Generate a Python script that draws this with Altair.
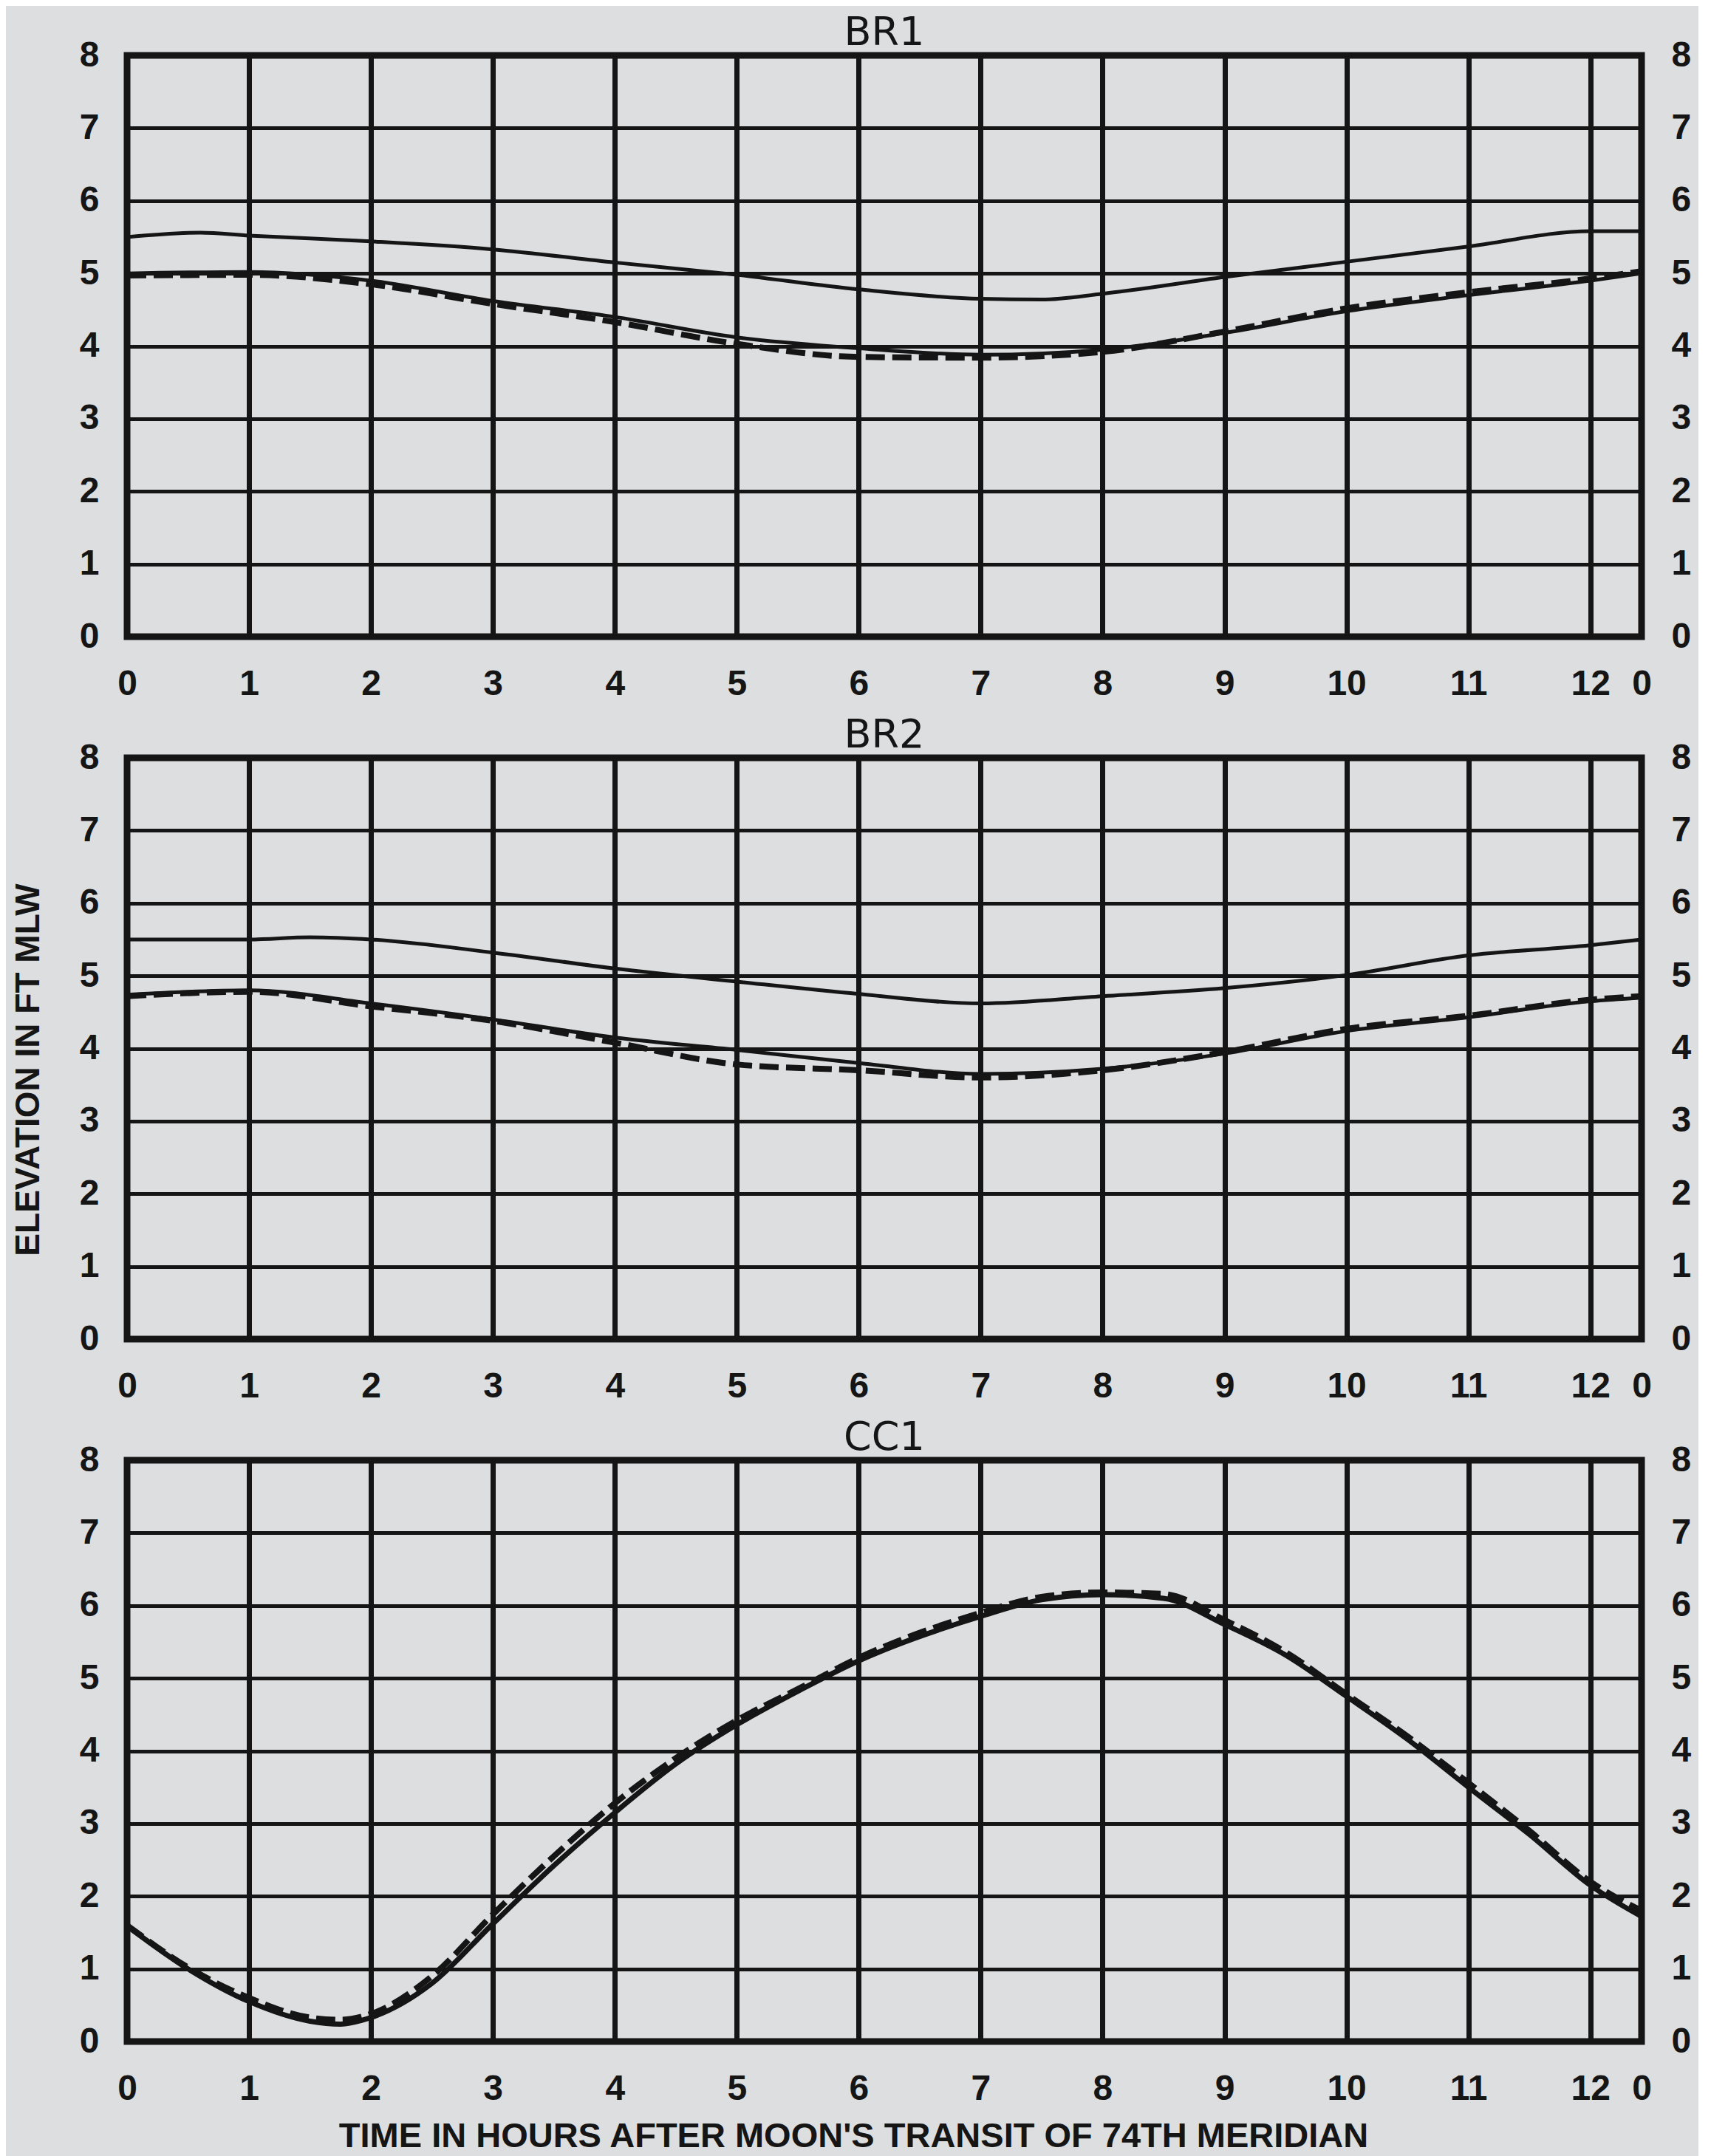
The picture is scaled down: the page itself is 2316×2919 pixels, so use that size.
import altair as alt
import pandas as pd

INK = "#151515"
PAPER = "#dcdee0"
LABEL_FONT = "Liberation Sans"
TITLE_FONT = "DejaVu Sans"

X_TICKS = [0, 1, 2, 3, 4, 5, 6, 7, 8, 9, 10, 11, 12, 12.42]
Y_TICKS = [0, 1, 2, 3, 4, 5, 6, 7, 8]

# ---- BR1 ----
BR1_UP_X = [0, 0.6, 1, 2, 3, 4, 5, 6, 7, 7.5, 8, 9, 10, 11, 12, 12.42]
BR1_UP_Y = [5.50, 5.56, 5.52, 5.44, 5.33, 5.15, 4.98, 4.78, 4.65, 4.64, 4.72, 4.95, 5.16, 5.37, 5.58, 5.58]
BR1_LO_X = [0, 1, 2, 3, 4, 5, 6, 7, 8, 9, 10, 11, 12, 12.42]
BR1_LO_Y = [5.00, 5.02, 4.90, 4.62, 4.40, 4.12, 3.97, 3.88, 3.95, 4.18, 4.48, 4.70, 4.90, 5.00]
BR1_DA_X = [0, 1, 2, 3, 4, 5, 6, 7, 8, 9, 10, 11, 12, 12.42]
BR1_DA_Y = [4.97, 4.98, 4.85, 4.58, 4.33, 4.03, 3.85, 3.84, 3.92, 4.20, 4.52, 4.74, 4.93, 5.03]

# ---- BR2 ----
BR2_UP_X = [0, 1, 1.5, 2, 3, 4, 5, 6, 7, 8, 9, 10, 11, 12, 12.42]
BR2_UP_Y = [5.50, 5.50, 5.53, 5.50, 5.32, 5.10, 4.92, 4.75, 4.62, 4.72, 4.83, 5.01, 5.28, 5.42, 5.50]
BR2_LO_X = [0, 1, 2, 3, 4, 5, 6, 7, 8, 9, 10, 11, 12, 12.42]
BR2_LO_Y = [4.74, 4.80, 4.62, 4.40, 4.15, 3.98, 3.80, 3.65, 3.72, 3.93, 4.24, 4.43, 4.65, 4.70]
BR2_DA_X = [0, 1, 2, 3, 4, 5, 6, 7, 8, 9, 10, 11, 12, 12.42]
BR2_DA_Y = [4.72, 4.78, 4.58, 4.38, 4.08, 3.78, 3.70, 3.60, 3.70, 3.95, 4.27, 4.45, 4.67, 4.72]

# ---- CC1 ----
CC1_X = [0, 0.5, 1, 1.5, 1.75, 2, 2.5, 3, 3.5, 4, 4.5, 5, 5.5, 6, 7, 7.5, 8, 8.5, 9, 9.5, 10, 10.5, 11, 11.5, 12, 12.42]
CC1_SO_Y = [1.59, 1.00, 0.55, 0.28, 0.24, 0.33, 0.80, 1.62, 2.42, 3.15, 3.82, 4.36, 4.82, 5.24, 5.85, 6.08, 6.15, 6.10, 5.74, 5.32, 4.75, 4.16, 3.50, 2.85, 2.15, 1.72]
CC1_DA_Y = [1.60, 1.02, 0.60, 0.33, 0.30, 0.38, 0.90, 1.75, 2.55, 3.28, 3.90, 4.42, 4.85, 5.28, 5.90, 6.12, 6.18, 6.16, 5.80, 5.36, 4.78, 4.20, 3.56, 2.90, 2.20, 1.80]

PANEL_TITLES = ["BR1", "BR2", "CC1"]
X_TITLE = "TIME IN HOURS AFTER MOON'S TRANSIT OF 74TH MERIDIAN"
Y_TITLE = "ELEVATION IN FT MLW"


def make_df(series):
    rows = []
    for name, style, xs, ys in series:
        for x, y in zip(xs, ys):
            rows.append({"hour": x, "elev": y, "series": name, "style": style})
    return pd.DataFrame(rows)


PANELS = [
    make_df([("upper", "solid", BR1_UP_X, BR1_UP_Y),
             ("lower", "solid", BR1_LO_X, BR1_LO_Y),
             ("lower2", "dashed", BR1_DA_X, BR1_DA_Y)]),
    make_df([("upper", "solid", BR2_UP_X, BR2_UP_Y),
             ("lower", "solid", BR2_LO_X, BR2_LO_Y),
             ("lower2", "dashed", BR2_DA_X, BR2_DA_Y)]),
    make_df([("lower", "solid", CC1_X, CC1_SO_Y),
             ("lower2", "dashed", CC1_X, CC1_DA_Y)]),
]

W, H = 2050, 787


def panel(idx):
    df = PANELS[idx]
    xscale = alt.Scale(domain=[0, 12.42], nice=False, zero=False)
    yscale = alt.Scale(domain=[0, 8], nice=False, zero=True)

    xaxis_kw = dict(
        values=X_TICKS, labelExpr="datum.value > 12.2 ? '0' : format(datum.value, 'd')",
        grid=True, gridColor=INK, gridWidth=7, gridOpacity=1,
        domain=False, ticks=False, labelPadding=40, labelFlush=False, labelOverlap=False,
        labelFont=LABEL_FONT, labelFontSize=48, labelFontWeight="bold", labelColor=INK,
    )
    if idx == 2:
        xaxis_kw.update(title=X_TITLE, titleFont=LABEL_FONT, titleFontSize=47,
                        titleFontWeight="bold", titleColor=INK, titleX=983, titleY=142,
                        titleBaseline="alphabetic")
    else:
        xaxis_kw.update(title=None)

    yaxis_kw = dict(
        values=Y_TICKS, grid=True, gridColor=INK, gridWidth=5, gridOpacity=1,
        domain=False, ticks=False, labelPadding=38, labelOverlap=False,
        labelFont=LABEL_FONT, labelFontSize=48, labelFontWeight="bold", labelColor=INK,
    )
    if idx == 1:
        yaxis_kw.update(title=Y_TITLE, titleFont=LABEL_FONT, titleFontSize=46,
                        titleFontWeight="bold", titleColor=INK, titleX=-120, titleY=422,
                        titleBaseline="alphabetic", titleAngle=270)
    else:
        yaxis_kw.update(title=None)

    lw_solid = 7 if idx == 2 else 5
    lw_dash = 8 if idx == 2 else 8

    base = alt.Chart(df)
    solid = base.transform_filter(alt.datum.style == "solid").mark_line(
        color=INK, strokeWidth=lw_solid, interpolate="monotone"
    ).encode(
        x=alt.X("hour:Q", scale=xscale, axis=alt.Axis(**xaxis_kw)),
        y=alt.Y("elev:Q", scale=yscale, axis=alt.Axis(**yaxis_kw)),
        detail="series:N",
    )
    dashed = base.transform_filter(alt.datum.style == "dashed").mark_line(
        color=INK, strokeWidth=lw_dash, strokeDash=[26, 10], interpolate="monotone"
    ).encode(
        x=alt.X("hour:Q", scale=xscale),
        y=alt.Y("elev:Q", scale=yscale, axis=None),
        detail="series:N",
    )
    right = base.mark_line(opacity=0).encode(
        x=alt.X("hour:Q", scale=xscale),
        y=alt.Y("elev:Q", scale=yscale, axis=alt.Axis(
            orient="right", values=Y_TICKS, grid=False, domain=False, ticks=False,
            labelPadding=40, labelOverlap=False, labelFont=LABEL_FONT, labelFontSize=48,
            labelFontWeight="bold", labelColor=INK, title=None)),
        detail="series:N",
    )
    return alt.layer(solid, dashed, right).resolve_axis(y="independent").properties(
        width=W, height=H,
        title=alt.TitleParams(PANEL_TITLES[idx], font=TITLE_FONT, fontSize=54,
                              fontWeight="normal", color=INK, offset=-21, anchor="middle"),
    )


chart = alt.vconcat(panel(0), panel(1), panel(2), spacing=164, bounds="flush").properties(
    padding={"left": 2, "top": 5, "right": 5, "bottom": 0},
    background=PAPER,
).configure_view(stroke=INK, strokeWidth=9)

chart.save("out.html", embed_options={"renderer": "svg", "actions": False})
